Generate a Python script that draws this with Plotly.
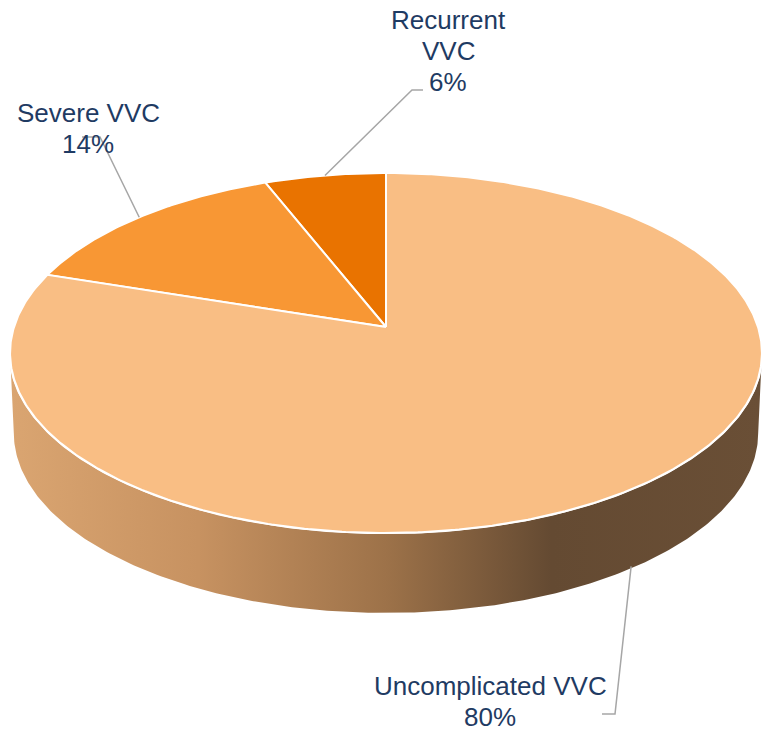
import numpy as np
import plotly.graph_objects as go

# ---- data ----
categories = ["Uncomplicated VVC", "Severe VVC", "Recurrent VVC"]
display_labels = ["Uncomplicated VVC", "Severe VVC", "Recurrent<br>VVC"]
percent = [80, 14, 6]
slice_colors = ["#F9BE84", "#F89734", "#E97300"]

# ---- layout geometry (pixel space) ----
W, H = 762, 730
cx, cy = 386, 327          # projected pie centre
Rx, Ry = 372, 176.2        # radii before perspective
k = 0.1445                 # perspective strength (far edge shrinks)
depth = 80                 # thickness of the pie side
text_color = "#1F3B63"
leader_color = "#A6A6A6"
font_family = "Arial, Liberation Sans, sans-serif"

# label line centres and elbows (layout)
label_pos = {
    "Recurrent VVC": dict(x=448, ys=[20, 51, 82], elbow=[(423, 90), (412, 90)]),
    "Severe VVC": dict(x=88, ys=[113, 144], elbow=[(82, 137), (100, 137)]),
    "Uncomplicated VVC": dict(x=490, ys=[686, 717], elbow=[(602, 714), (615, 714)]),
}


def proj(theta_deg, drop=0.0, shrink=1.0):
    """Project a point of the pie rim; theta from top, counter-clockwise."""
    t = np.radians(theta_deg)
    u, v = np.sin(t), np.cos(t)
    s = 1.0 / (1.0 + k * v)
    return cx - Rx * shrink * u * s, cy - Ry * v * s + drop


fig = go.Figure()

# ---- side (front part) with horizontal gradient ----
th0 = np.degrees(np.arccos(-k))
th = np.linspace(th0, 360 - th0, 240)
tx, ty = proj(th)
bx, by = proj(th, drop=depth, shrink=0.99)
side_x = np.concatenate([tx, bx[::-1]])
side_y = np.concatenate([ty, by[::-1]])
fig.add_trace(go.Scatter(
    x=side_x, y=side_y, mode="lines", fill="toself",
    line=dict(width=0, color="rgba(0,0,0,0)"),
    fillgradient=dict(type="horizontal", colorscale=[
        [0.0, "#DAA571"], [0.25, "#C79261"], [0.5, "#9D7249"],
        [0.72, "#644A32"], [1.0, "#6A4F36"]]),
    hoverinfo="skip", showlegend=False))
# white rim between top face and side
fig.add_trace(go.Scatter(x=tx, y=ty, mode="lines",
                         line=dict(color="white", width=2.5),
                         hoverinfo="skip", showlegend=False))

# ---- top face slices ----
total = sum(percent)
order = [2, 1, 0]   # Recurrent starts at 12 o'clock, going counter-clockwise
start = 0.0
mid_angles = {}
for i in order:
    span = percent[i] / total * 360.0
    angs = np.linspace(start, start + span, max(int(span * 2), 4))
    px, py = proj(angs)
    xs = np.concatenate([[cx], px, [cx]])
    ys = np.concatenate([[cy], py, [cy]])
    fig.add_trace(go.Scatter(
        x=xs, y=ys, mode="lines", fill="toself", fillcolor=slice_colors[i],
        line=dict(color="white", width=2), hoverinfo="skip", showlegend=False,
        name=categories[i]))
    mid_angles[categories[i]] = start + span / 2
    start += span

# ---- labels and leader lines ----
for i, cat in enumerate(categories):
    lp = label_pos[cat]
    m = mid_angles[cat]
    front = np.cos(np.radians(m)) < 0
    ax, ay = proj(m, drop=depth - 2 if front else 0, shrink=0.99 if front else 1.0)
    pts = lp["elbow"] + [(ax, ay)]
    fig.add_trace(go.Scatter(
        x=[p[0] for p in pts], y=[p[1] for p in pts], mode="lines",
        line=dict(color=leader_color, width=1.5),
        hoverinfo="skip", showlegend=False))
    lines = (display_labels[i] + f"<br>{percent[i]}%").split("<br>")
    for txt, yy in zip(lines, lp["ys"]):
        fig.add_annotation(x=lp["x"], y=yy, text=txt, showarrow=False,
                           xanchor="center", yanchor="middle",
                           font=dict(family=font_family, size=26, color=text_color))

fig.update_layout(
    width=W, height=H,
    margin=dict(l=0, r=0, t=0, b=0),
    paper_bgcolor="white", plot_bgcolor="white",
    xaxis=dict(range=[0, W], visible=False, fixedrange=True),
    yaxis=dict(range=[H, 0], visible=False, fixedrange=True),
    showlegend=False,
)

fig.write_html("out.html",
               post_script="document.body.style.margin='0';document.body.style.overflow='hidden';",
               config={"displayModeBar": False})
